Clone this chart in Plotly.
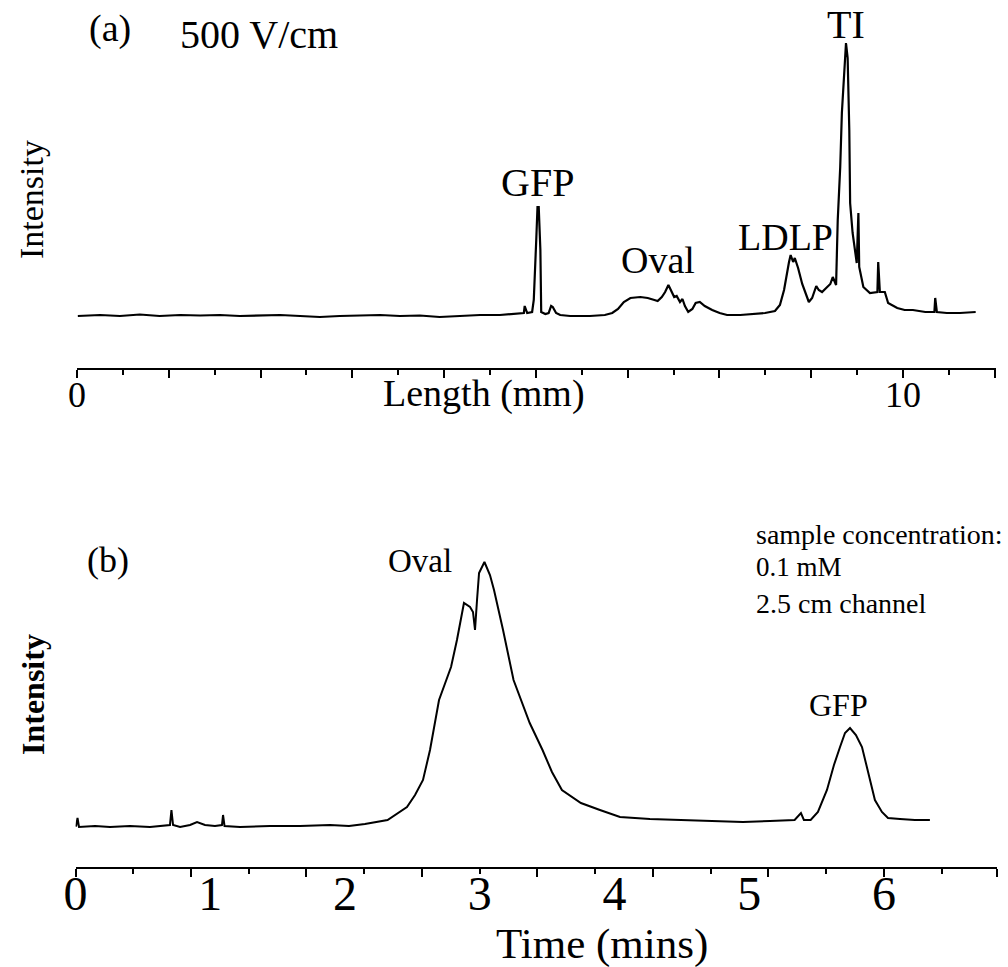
import plotly.graph_objects as go

# ---------------- data ----------------
# Panel (a): Length (mm) vs intensity (arbitrary units, baseline = 0)
len_mm = [0.01, 0.28, 0.52, 0.76, 1.00, 1.25, 1.49, 1.73, 1.97, 2.22, 2.46, 2.70, 2.94, 3.18,
          3.43, 3.67, 3.91, 4.15, 4.39, 4.64, 4.88, 5.12, 5.30, 5.41, 5.42, 5.45, 5.51, 5.53,
          5.56, 5.575, 5.59, 5.61, 5.62, 5.67, 5.71, 5.74, 5.76, 5.80, 5.85, 5.97, 6.21, 6.39,
          6.48, 6.55, 6.62, 6.70, 6.82, 6.91, 6.99, 7.03, 7.08, 7.12, 7.16, 7.20, 7.23, 7.26,
          7.30, 7.33, 7.36, 7.40, 7.45, 7.49, 7.54, 7.60, 7.69, 7.78, 7.87, 8.03, 8.21, 8.33,
          8.45, 8.51, 8.56, 8.60, 8.62, 8.64, 8.67, 8.69, 8.73, 8.78, 8.83, 8.86, 8.90, 8.95,
          8.98, 9.02, 9.07, 9.12, 9.15, 9.19, 9.21, 9.24, 9.26, 9.29, 9.31, 9.33, 9.35, 9.36,
          9.39, 9.44, 9.46, 9.47, 9.52, 9.60, 9.69, 9.70, 9.72, 9.78, 9.82, 9.93, 10.02, 10.12,
          10.27, 10.38, 10.39, 10.41, 10.53, 10.69, 10.88]
int_a = [0, 1, 0, 1.5, 0, 1, 0.5, 1, 0, 0.5, 1, 0, -1, 0,
         0.5, 1, 0, 0.5, -1, 0, 1, 1, 2, 3, 10, 3, 4, 16,
         76, 109, 109, 66, 4, 2, 3, 10, 9, 3, 1, 0, 0, 1,
         3, 7, 14, 18, 19, 18, 16, 15, 19, 24, 31, 24, 19, 20,
         14, 17, 10, 4, 7, 13, 14, 10, 6, 3, 1, 1, 2, 3,
         5, 11, 26, 46, 54, 61, 54, 58, 48, 32, 21, 14, 18, 30,
         26, 24, 28, 32, 39, 31, 96, 149, 203, 239, 273, 258, 186, 113,
         83, 53, 103, 49, 29, 23, 24, 54, 24, 24, 13, 8, 6, 6,
         4, 4, 18, 4, 3, 3, 4]

# Panel (b): Time (mins) vs intensity
time_min = [0.004, 0.015, 0.026, 0.145, 0.256, 0.404, 0.553, 0.664, 0.701, 0.712, 0.724, 0.776,
            0.850, 0.902, 0.961, 1.035, 1.087, 1.095, 1.106, 1.221, 1.443, 1.666, 1.889, 2.030,
            2.148, 2.316, 2.460, 2.520, 2.579, 2.631, 2.698, 2.787, 2.831, 2.883, 2.928, 2.950,
            2.965, 2.980, 2.995, 3.035, 3.076, 3.106, 3.173, 3.251, 3.306, 3.371, 3.466, 3.536,
            3.610, 3.751, 3.892, 4.041, 4.263, 4.471, 4.708, 4.953, 5.154, 5.337, 5.384, 5.406,
            5.456, 5.510, 5.577, 5.629, 5.674, 5.711, 5.748, 5.792, 5.837, 5.881, 5.933, 5.985,
            6.030, 6.119, 6.230, 6.341]
int_b = [0.3, 9, 0, 1, 0, 1, 0, 1, 2, 17, 2, 0,
         2, 5, 2, 1, 2, 12, 1, 0, 1, 1, 2, 1,
         3, 7, 20, 32, 47, 77, 127, 160, 187, 224, 220, 215,
         197, 227, 254, 265, 252, 237, 197, 147, 127, 104, 77, 55,
         37, 24, 17, 10, 8, 7, 6, 5, 6, 7, 14, 7,
         7, 15, 37, 62, 80, 94, 99, 92, 80, 57, 27, 15,
         9, 8, 7, 7]

# tick labels
a_tick_labels = ["0", "10"]
a_tick_label_vals = [0, 10]
b_tick_labels = ["0", "1", "2", "3", "4", "5", "6"]
b_tick_label_vals = [0, 1, 2, 3, 4, 5, 6]

# ---------------- layout helpers ----------------
W, H = 1008, 967
FONT = "Liberation Serif"


def px(x):
    return x / W


def py(y):
    return 1 - y / H


# tick positions (axis decoration)
a_step = 10 / 18
a_major = [k * a_step for k in range(0, 21, 2)]
a_minor = [k * a_step for k in range(1, 21, 2)]

b_step = 6 / 14
b_major = [k * b_step for k in range(0, 16, 2)] + [6.839]
b_minor = [k * b_step for k in range(1, 16, 2)]

xa_range = [0, 11.126]
xb_range = [0, 6.839]

fig = go.Figure()
fig.add_trace(go.Scatter(x=len_mm, y=int_a, mode="lines", line=dict(color="black", width=2.2),
                         xaxis="x", yaxis="y", showlegend=False, hoverinfo="skip"))
fig.add_trace(go.Scatter(x=time_min, y=int_b, mode="lines", line=dict(color="black", width=2),
                         xaxis="x2", yaxis="y2", showlegend=False, hoverinfo="skip"))
# carrier traces for label-only axes
fig.add_trace(go.Scatter(x=[len_mm[0]], y=[int_a[0]], mode="lines", line=dict(width=0),
                         xaxis="x4", yaxis="y", showlegend=False, hoverinfo="skip"))
fig.add_trace(go.Scatter(x=[time_min[0]], y=[int_b[0]], mode="lines", line=dict(width=0),
                         xaxis="x3", yaxis="y2", showlegend=False, hoverinfo="skip"))

fig.update_layout(
    width=W, height=H, margin=dict(l=0, r=0, t=0, b=0, autoexpand=False),
    paper_bgcolor="white", plot_bgcolor="white",
    xaxis=dict(domain=[px(77), px(996)], range=xa_range, anchor="y", automargin=False,
               showline=True, linewidth=2, linecolor="black",
               ticks="outside", ticklen=8, tickwidth=1.5, tickcolor="black",
               tickvals=a_major, showticklabels=False,
               minor=dict(tickvals=a_minor, ticks="outside", ticklen=5, tickwidth=1.5, tickcolor="black"),
               showgrid=False, zeroline=False),
    xaxis4=dict(domain=[px(77), px(996)], range=xa_range, anchor="y", overlaying="x",
                side="bottom", automargin=False, showline=False, ticks="", showgrid=False,
                zeroline=False, tickvals=a_tick_label_vals, ticktext=a_tick_labels,
                ticklabelstandoff=2,
                tickfont=dict(family=FONT, color="black", size=36)),
    yaxis=dict(domain=[py(368), 1], range=[-52, 316], visible=False, automargin=False),
    xaxis2=dict(domain=[px(75.5), px(997)], range=xb_range, anchor="y2", automargin=False,
                showline=True, linewidth=2, linecolor="black",
                ticks="outside", ticklen=8, tickwidth=1.5, tickcolor="black",
                tickvals=b_major, showticklabels=False,
                minor=dict(tickvals=b_minor, ticks="outside", ticklen=5, tickwidth=1.5, tickcolor="black"),
                showgrid=False, zeroline=False),
    xaxis3=dict(domain=[px(75.5), px(997)], range=xb_range, anchor="y2", overlaying="x2",
                side="bottom", automargin=False, showline=False, ticks="", showgrid=False,
                zeroline=False, tickvals=b_tick_label_vals, ticktext=b_tick_labels,
                ticklabelstandoff=-6,
                tickfont=dict(family=FONT, color="black", size=48)),
    yaxis2=dict(domain=[py(866.7), py(480)], range=[-39.7, 347], visible=False, automargin=False),
)

ann = []


def add(text, x, y, size, angle=0, xanchor="center", bold=False):
    ann.append(dict(text=("<b>%s</b>" % text) if bold else text, x=px(x), y=py(y),
                    xref="paper", yref="paper", showarrow=False,
                    xanchor=xanchor, yanchor="middle", textangle=angle,
                    font=dict(family=FONT, size=size, color="black")))


add("(a)", 110, 28, 38)
add("500 V/cm", 259, 34, 40)
add("GFP", 537, 182, 40)
add("Oval", 658, 260, 38)
add("LDLP", 785, 237, 38)
add("TI", 846, 24, 40)
add("Intensity", 31, 200, 34, angle=-90)
add("Length (mm)", 484, 393, 38)
add("(b)", 108, 560, 36)
add("Oval", 420, 561, 33)
add("GFP", 838, 705, 32)
add("sample concentration:", 754, 534, 28, xanchor="left")
add("0.1 mM", 754, 567, 27, xanchor="left")
add("2.5 cm channel", 754, 603, 28, xanchor="left")
add("Intensity", 33, 695, 32, angle=-90, bold=True)
add("Time (mins)", 602, 944, 43)

fig.update_layout(annotations=ann)
fig.write_html("out.html")
